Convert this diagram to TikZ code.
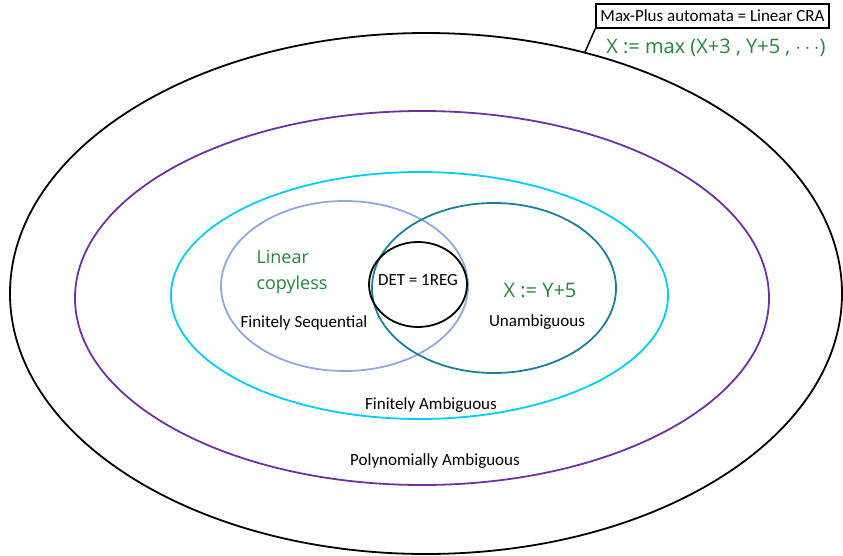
\documentclass[tikz,border=0pt]{standalone}
\usepackage{fontspec}
\setmainfont{Carlito}
\newfontfamily\handfont{Open Sans}
\definecolor{polypurple}{RGB}{112,48,160}
\definecolor{finamb}{RGB}{0,204,255}
\definecolor{finseq}{RGB}{142,169,219}
\definecolor{unamb}{RGB}{24,128,158}
\definecolor{inkgreen}{RGB}{34,134,58}
\begin{document}
\begin{tikzpicture}[x=1pt,y=-1pt,
  ring/.style={line width=1.8pt},
  lbl/.style={font=\fontsize{17}{19}\selectfont, inner sep=0pt},
  hand/.style={font=\handfont\fontsize{20}{26}\selectfont, text=inkgreen, inner sep=0pt}]
\useasboundingbox (0,0) rectangle (843,555);
% nested classes
\draw[ring, black] (426,293.5) ellipse [x radius=416, y radius=260.5];
\draw[ring, polypurple] (422,298) ellipse [x radius=347, y radius=187];
\draw[ring, finamb] (419.5,295.5) ellipse [x radius=248.5, y radius=123.5];
\draw[ring, finseq] (344.5,286) ellipse [x radius=123.5, y radius=85];
\draw[ring, unamb] (494,288) ellipse [x radius=122, y radius=85];
\draw[ring, black] (418,284.5) ellipse [x radius=49, y radius=42.5];
% labels
\node[lbl] (det) at (418,280) {DET = 1REG};
\node[lbl] (fs) at (304,323) {Finitely Sequential};
\node[lbl] (ua) at (537,322) {Unambiguous};
\node[lbl] (fa) at (431,405) {Finitely Ambiguous};
\node[lbl] (pa) at (435,461) {Polynomially Ambiguous};
% callout for the outer class
\node[draw, line width=1.5pt, lbl, inner xsep=3pt, inner ysep=3pt, minimum width=233pt, minimum height=24pt] (mp) at (712.5,16) {Max-Plus automata = Linear CRA};
\coordinate (mpfoot) at (585,52);
\draw[line width=1.5pt] (mp.south west) -- (mpfoot);
% handwritten examples
\node[hand] (ex1) at (716,48) {X := max (X+3 , Y+5 , $\cdots$)};
\node[hand, align=left, font=\handfont\fontsize{18}{26}\selectfont] (ex2) at (292,272) {Linear\\copyless};
\node[hand] (ex3) at (540,290) {X := Y+5};
\end{tikzpicture}
\end{document}
